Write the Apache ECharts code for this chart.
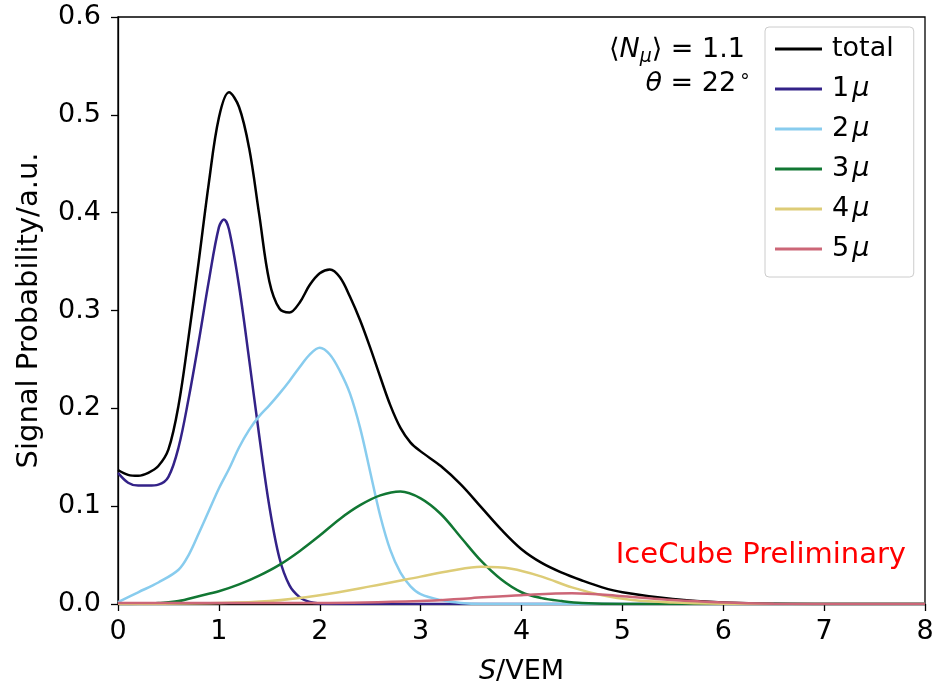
<!DOCTYPE html>
<html>
<head>
<meta charset="utf-8">
<script src="https://cdn.jsdelivr.net/npm/echarts@6/dist/echarts.min.js"></script>
<style>
  html, body { margin: 0; padding: 0; background: #fff; }
  #chart { width: 932px; height: 686px; }
</style>
</head>
<body>
<div id="chart"></div>
<script>
  // signal probability per muon multiplicity
  const xTotal = [0, 0.1, 0.2, 0.3, 0.4, 0.5, 0.6, 0.7, 0.8, 0.9, 1.0, 1.1, 1.2, 1.3, 1.4, 1.5, 1.6, 1.7, 1.8, 1.9,
    2.0, 2.1, 2.2, 2.3, 2.4, 2.5, 2.6, 2.7, 2.8, 2.9, 3.0, 3.2, 3.4, 3.6, 3.8, 4.0, 4.2, 4.4, 4.6, 4.8, 5.0, 5.5, 6.0, 6.5, 7.0, 8.0]
  const yTotal = [0.137, 0.132, 0.131, 0.134, 0.141, 0.158, 0.203, 0.273, 0.35, 0.43, 0.497, 0.523, 0.508, 0.466, 0.398, 0.33, 0.302, 0.298, 0.308, 0.326,
    0.338, 0.342, 0.334, 0.314, 0.29, 0.262, 0.232, 0.203, 0.18, 0.165, 0.156, 0.141, 0.122, 0.099, 0.076, 0.056, 0.042, 0.032, 0.024, 0.017, 0.012, 0.005, 0.0015, 0.0005, 0, 0]

  const x1 = [0, 0.1, 0.2, 0.3, 0.4, 0.5, 0.6, 0.7, 0.8, 0.9, 1.0, 1.05, 1.1, 1.2, 1.3, 1.4, 1.5, 1.6, 1.7, 1.8, 1.9, 2.0, 2.2, 8.0]
  const y1 = [0.134, 0.124, 0.121, 0.121, 0.122, 0.13, 0.16, 0.21, 0.268, 0.33, 0.385, 0.393, 0.383, 0.325, 0.25, 0.172, 0.1, 0.047, 0.019, 0.007, 0.002, 0.0005, 0, 0]

  const x2 = [0, 0.2, 0.4, 0.6, 0.7, 0.8, 0.9, 1.0, 1.1, 1.2, 1.3, 1.4, 1.5, 1.6, 1.7, 1.8, 1.9, 2.0, 2.1, 2.2, 2.3, 2.4, 2.5, 2.6, 2.7, 2.8, 2.9, 3.0, 3.2, 3.4, 3.6, 8.0]
  const y2 = [0.002, 0.012, 0.022, 0.035, 0.05, 0.072, 0.095, 0.118, 0.138, 0.16, 0.178, 0.192, 0.203, 0.215, 0.228, 0.242, 0.255, 0.262, 0.255, 0.238, 0.215, 0.18, 0.135, 0.09, 0.055, 0.032, 0.018, 0.01, 0.004, 0.001, 0, 0]

  const x3 = [0, 0.2, 0.4, 0.6, 0.8, 1.0, 1.2, 1.4, 1.6, 1.8, 2.0, 2.2, 2.4, 2.6, 2.8, 3.0, 3.2, 3.4, 3.6, 3.8, 4.0, 4.2, 4.4, 4.6, 5.0, 8.0]
  const y3 = [0, 0.0003, 0.001, 0.003, 0.008, 0.013, 0.02, 0.029, 0.04, 0.054, 0.07, 0.087, 0.101, 0.111, 0.115, 0.108, 0.092, 0.068, 0.044, 0.025, 0.012, 0.006, 0.003, 0.001, 0, 0]

  const x4 = [0, 1.0, 1.5, 2.0, 2.5, 3.0, 3.3, 3.6, 3.9, 4.2, 4.5, 4.8, 5.1, 5.5, 6.0, 6.5, 8.0]
  const y4 = [0, 0.001, 0.003, 0.009, 0.018, 0.028, 0.034, 0.038, 0.036, 0.028, 0.017, 0.009, 0.004, 0.0015, 0.0003, 0, 0]

  const x5 = [0, 2.0, 3.0, 3.5, 4.0, 4.5, 5.0, 5.5, 6.0, 6.5, 7.0, 8.0]
  const y5 = [0.001, 0.001, 0.003, 0.006, 0.009, 0.011, 0.008, 0.004, 0.0015, 0.0003, 0, 0]

  const seriesNames = ['total', '1μ', '2μ', '3μ', '4μ', '5μ']
  const seriesColors = ['#000000', '#332288', '#88ccee', '#117733', '#ddcc77', '#cc6677']
  const xTicks = [0, 1, 2, 3, 4, 5, 6, 7, 8]
  const yTicks = [0.0, 0.1, 0.2, 0.3, 0.4, 0.5, 0.6]

  const font = 'DejaVu Sans'
  const fs = 27
  const zip = (xs, ys) => xs.map((x, i) => [x, ys[i]])
  const curves = [[xTotal, yTotal], [x1, y1], [x2, y2], [x3, y3], [x4, y4], [x5, y5]]

  const chart = echarts.init(document.getElementById('chart'))

  const axisCommon = {
    axisLine: { show: true, onZero: false, lineStyle: { color: '#000', width: 1.3 } },
    axisTick: { show: true, inside: false, length: 7, lineStyle: { color: '#000', width: 1.3 } },
    splitLine: { show: false },
    axisLabel: { color: '#000', fontFamily: font, fontSize: fs }
  }

  chart.setOption({
    animation: false,
    backgroundColor: '#fff',
    grid: {
      left: 118, right: 7, top: 17, bottom: 82,
      outerBoundsMode: 'none',
      containLabel: false,
      show: true, borderColor: '#000', borderWidth: 1.3, backgroundColor: 'transparent'
    },
    xAxis: {
      type: 'value',
      min: xTicks[0],
      max: xTicks[xTicks.length - 1],
      interval: 1,
      ...axisCommon,
      axisLabel: { ...axisCommon.axisLabel, margin: 14 },
      name: '{i|S}/VEM',
      nameLocation: 'middle',
      nameGap: 54,
      nameTextStyle: {
        color: '#000', fontFamily: font, fontSize: fs,
        rich: { i: { fontStyle: 'italic', fontFamily: font, fontSize: fs, color: '#000' } }
      }
    },
    yAxis: {
      type: 'value',
      min: yTicks[0],
      max: yTicks[yTicks.length - 1],
      interval: 0.1,
      ...axisCommon,
      axisLabel: { ...axisCommon.axisLabel, margin: 17, formatter: v => v.toFixed(1) },
      name: 'Signal Probability/a.u.',
      nameLocation: 'middle',
      nameGap: 74,
      nameTextStyle: { color: '#000', fontFamily: font, fontSize: 29 }
    },
    legend: {
      orient: 'vertical',
      left: 765,
      top: 27,
      data: seriesNames,
      icon: 'rect',
      itemWidth: 47,
      itemHeight: 3,
      itemGap: 12,
      padding: [8, 20, 14, 10],
      backgroundColor: '#fff',
      borderColor: '#cccccc',
      borderWidth: 1,
      borderRadius: 4,
      formatter: name => name === 'total' ? '{t|total}' : '{n|' + name[0] + '}{m|μ}',
      textStyle: {
        color: '#000', fontFamily: font, fontSize: fs, lineHeight: 28,
        rich: {
          t: { fontFamily: font, fontSize: fs, color: '#000', padding: [0, 0, 0, 5] },
          n: { fontFamily: font, fontSize: fs, color: '#000', padding: [0, 3, 0, 5] },
          m: { fontFamily: font, fontSize: fs, color: '#000', fontStyle: 'italic' }
        }
      }
    },
    graphic: [
      {
        type: 'text',
        x: 745, y: 50,
        style: {
          text: '⟨{i|N}{s|μ}⟩ = 1.1',
          align: 'right', verticalAlign: 'middle',
          fontFamily: font, fontSize: fs, fill: '#000',
          rich: {
            i: { fontFamily: font, fontSize: fs, fontStyle: 'italic', fill: '#000' },
            s: { fontFamily: font, fontSize: 19, fontStyle: 'italic', fill: '#000', padding: [14, 0, 0, 0] }
          }
        }
      },
      {
        type: 'text',
        x: 751, y: 84,
        style: {
          text: '{i|θ} = 22{d|∘}',
          align: 'right', verticalAlign: 'middle',
          fontFamily: font, fontSize: fs, fill: '#000',
          rich: {
            i: { fontFamily: font, fontSize: fs, fontStyle: 'italic', fill: '#000' },
            d: { fontFamily: font, fontSize: 19, fill: '#000', padding: [0, 0, 14, 3] }
          }
        }
      },
      {
        type: 'text',
        x: 906, y: 555,
        style: {
          text: 'IceCube Preliminary',
          align: 'right', verticalAlign: 'middle',
          fontFamily: font, fontSize: 29, fill: '#ff0000'
        }
      }
    ],
    series: curves.map((c, i) => ({
      name: seriesNames[i],
      type: 'line',
      data: zip(c[0], c[1]),
      smooth: 0.35,
      showSymbol: false,
      symbol: 'none',
      clip: true,
      color: seriesColors[i],
      lineStyle: { color: seriesColors[i], width: 2.5 }
    }))
  })
</script>
</body>
</html>
